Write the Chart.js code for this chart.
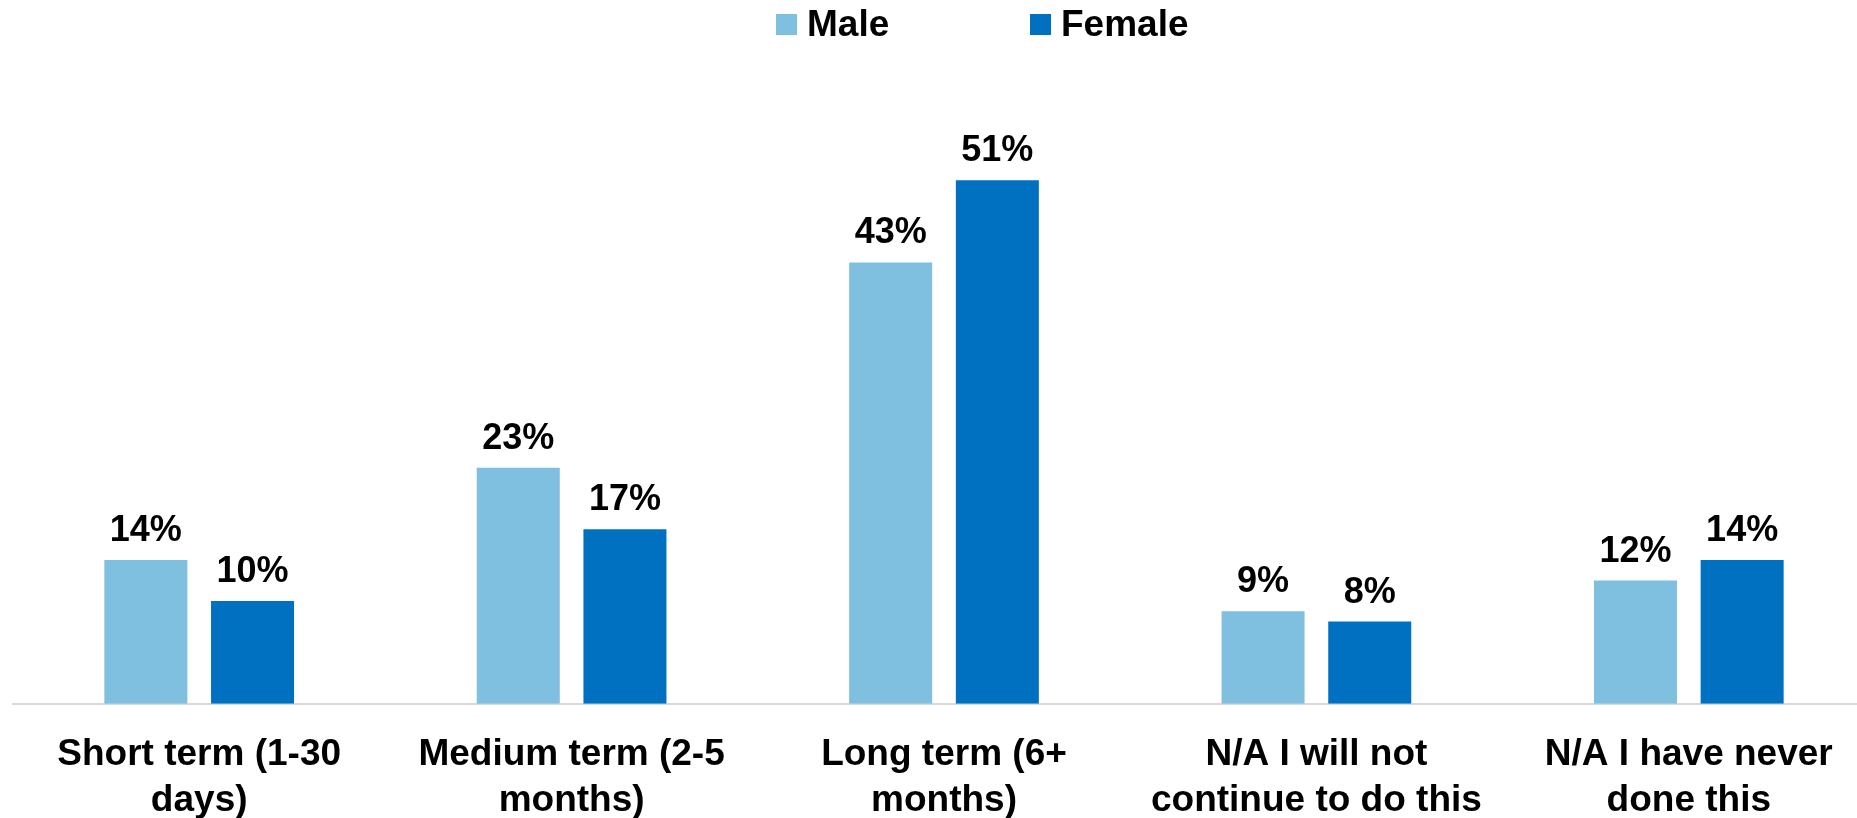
<!DOCTYPE html>
<html>
<head>
<meta charset="utf-8">
<script src="https://cdn.jsdelivr.net/npm/chart.js@4.4.1/dist/chart.umd.min.js"></script>
<style>
  html, body { margin: 0; padding: 0; background: #fff; overflow: hidden; }
  #wrap { position: relative; width: 1876px; height: 852px; }
</style>
</head>
<body>
<div id="wrap"><canvas id="c"></canvas></div>
<script>
const categories = [
  ["Short term (1-30", "days)"],
  ["Medium term (2-5", "months)"],
  ["Long term (6+", "months)"],
  ["N/A I will not", "continue to do this"],
  ["N/A I have never", "done this"]
];
const seriesNames = ["Male", "Female"];
const maleValues = [14, 23, 43, 9, 12];
const femaleValues = [10, 17, 51, 8, 14];
const seriesColors = ["#7FBFE0", "#0070C0"];

const FONT = '"Liberation Sans", Arial, sans-serif';

const dataLabelPlugin = {
  id: 'dataLabels',
  afterDatasetsDraw(chart) {
    const ctx = chart.ctx;
    ctx.save();
    ctx.font = 'bold 36px ' + FONT;
    ctx.fillStyle = '#000';
    ctx.textAlign = 'center';
    ctx.textBaseline = 'alphabetic';
    chart.data.datasets.forEach((ds, di) => {
      const meta = chart.getDatasetMeta(di);
      meta.data.forEach((el, i) => {
        ctx.fillText(ds.data[i] + '%', el.x, el.y - 19);
      });
    });
    ctx.restore();
  }
};

const customLegend = {
  id: 'customLegend',
  afterDraw(chart) {
    const ctx = chart.ctx;
    ctx.save();
    ctx.font = 'bold 37px ' + FONT;
    ctx.textBaseline = 'alphabetic';
    ctx.textAlign = 'left';
    const startX = 776, stride = 254, box = 21, boxTop = 14, gap = 10, baseline = 36;
    chart.data.datasets.forEach((ds, i) => {
      const x = startX + i * stride;
      ctx.fillStyle = ds.backgroundColor;
      ctx.fillRect(x, boxTop, box, box);
      ctx.fillStyle = '#000';
      ctx.fillText(ds.label, x + box + gap, baseline);
    });
    ctx.restore();
  }
};

new Chart(document.getElementById('c'), {
  type: 'bar',
  data: {
    labels: categories,
    datasets: [
      { label: seriesNames[0], data: maleValues, backgroundColor: seriesColors[0] },
      { label: seriesNames[1], data: femaleValues, backgroundColor: seriesColors[1] }
    ]
  },
  options: {
    responsive: true,
    maintainAspectRatio: false,
    animation: false,
    devicePixelRatio: 1,
    layout: { padding: { left: 13, right: 1, top: 88, bottom: 0 } },
    datasets: { bar: { categoryPercentage: 0.573, barPercentage: 0.778 } },
    plugins: {
      legend: { display: false },
      tooltip: { enabled: false }
    },
    scales: {
      x: {
        grid: { display: false, drawTicks: false },
        border: { display: true, color: '#D9D9D9', width: 2 },
        ticks: {
          color: '#000',
          font: { family: FONT, size: 37, weight: 'bold', lineHeight: 1.22 },
          padding: 29,
          maxRotation: 0,
          autoSkip: false
        }
      },
      y: { display: false, min: 0, max: 60 }
    }
  },
  plugins: [dataLabelPlugin, customLegend]
});
</script>
</body>
</html>
